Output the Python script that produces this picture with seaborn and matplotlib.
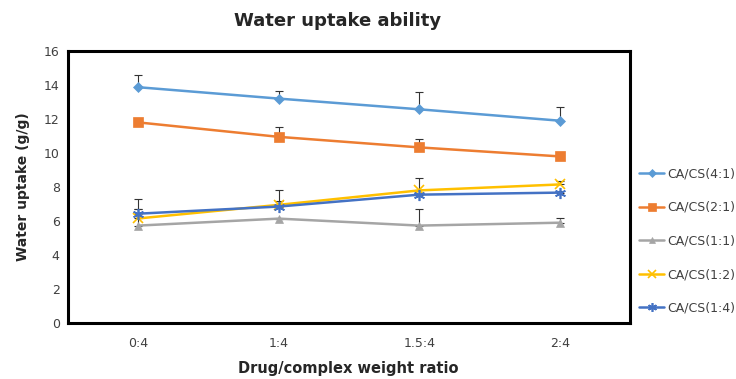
import matplotlib
matplotlib.use("Agg")
import matplotlib.pyplot as plt
import seaborn as sns
import pandas as pd
import numpy as np

categories = ["0:4", "1:4", "1.5:4", "2:4"]
series_names = ["CA/CS(4:1)", "CA/CS(2:1)", "CA/CS(1:1)", "CA/CS(1:2)", "CA/CS(1:4)"]
v_41 = [13.87, 13.2, 12.57, 11.9]
v_21 = [11.8, 10.95, 10.33, 9.8]
v_11 = [5.73, 6.14, 5.73, 5.9]
v_12 = [6.15, 6.95, 7.8, 8.15]
v_14 = [6.43, 6.85, 7.55, 7.67]
e_41 = [0.7, 0.45, 1.0, 0.8]
e_21 = [0.2, 0.6, 0.5, 0.2]
e_11 = [0.95, 0.0, 0.95, 0.3]
e_12 = [0.55, 0.85, 0.75, 0.2]
e_14 = [0.85, 0.35, 0.3, 0.1]

values = [v_41, v_21, v_11, v_12, v_14]
errors = [e_41, e_21, e_11, e_12, e_14]
colors = ["#5B9BD5", "#ED7D31", "#A5A5A5", "#FFC000", "#4472C4"]
markers = ["D", "s", "^", "x", (6, 2, 0)]
msizes = [5, 7, 6, 7, 8]

rows = []
for name, vals in zip(series_names, values):
    for i, v in enumerate(vals):
        rows.append({"series": name, "xpos": i, "value": v})
df = pd.DataFrame(rows)

sns.set_theme(style="white")
plt.rcParams["font.family"] = ["DejaVu Sans"]

fig = plt.figure(figsize=(7.36, 3.79), dpi=100)
ax = fig.add_axes([68/736, 1-323/379, (630-68)/736, (323-51)/379])

handles = []
for name, vals, errs, c, m, ms in zip(series_names, values, errors, colors, markers, msizes):
    sub = df[df["series"] == name]
    ax.errorbar(sub["xpos"], sub["value"], yerr=[np.zeros(len(errs)), errs],
                fmt="none", ecolor="#333333", elinewidth=0.8, capsize=3, capthick=0.8, zorder=1)
    mew = 1.2 if (m == "x" or isinstance(m, tuple)) else 0.5
    sns.lineplot(data=sub, x="xpos", y="value", ax=ax, color=c, marker=m,
                 markersize=ms, markeredgecolor=c, markeredgewidth=mew,
                 linewidth=1.8, zorder=3, legend=False)
    h, = ax.plot([], [], color=c, marker=m, markersize=ms * 0.8, markeredgecolor=c,
                 markeredgewidth=mew, linewidth=1.8, label=name)
    handles.append(h)

ax.set_xlim(-0.5, 3.5)
ax.set_ylim(0, 16)
ax.set_yticks(range(0, 17, 2))
ax.set_xticks(range(len(categories)))
ax.set_xticklabels(categories)
ax.tick_params(axis="both", length=0, labelsize=9, colors="#404040", pad=6)
ax.tick_params(axis="x", pad=10)
for sp in ax.spines.values():
    sp.set_color("black")
    sp.set_linewidth(2.2)
ax.set_xlabel("")
ax.set_ylabel("Water uptake (g/g)", fontsize=10, fontweight="bold", labelpad=10)
fig.text(348/736, 1-368/379, "Drug/complex weight ratio", fontsize=10.5, fontweight="bold",
         ha="center", va="center")
fig.text(338/736, 1-21/379, "Water uptake ability", fontsize=13, fontweight="bold",
         ha="center", va="center")

leg = fig.legend(handles=handles, loc="center left", bbox_to_anchor=(639/736, 1-241/379),
                 frameon=False, fontsize=9, labelspacing=1.65, handlelength=2.0,
                 handletextpad=0.25, borderaxespad=0, borderpad=0)
for t in leg.get_texts():
    t.set_color("#404040")

ax.set_zorder(1)
fig.savefig("out.png", dpi=100)
